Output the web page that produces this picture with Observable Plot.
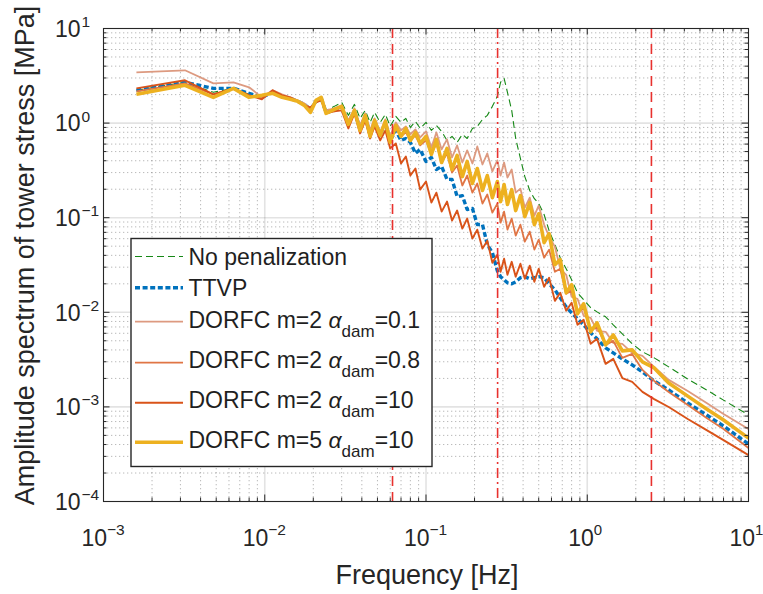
<!DOCTYPE html>
<html><head><meta charset="utf-8">
<script src="https://cdn.jsdelivr.net/npm/d3@7"></script>
<script src="https://cdn.jsdelivr.net/npm/@observablehq/plot@0.6"></script>
<style>
body{margin:0;background:#fff;}
#chart{position:relative;width:763px;height:594px;}
</style>
</head><body><div id="chart"></div>
<script>
// ---------- data ----------
const freq = [0.0016, 0.0032, 0.0048, 0.0064, 0.008, 0.0096, 0.0112, 0.0128, 0.0144, 0.016,
  0.0176, 0.0192, 0.0208, 0.0224, 0.024, 0.027, 0.03, 0.033, 0.036, 0.039,
  0.042, 0.045, 0.048, 0.052, 0.056, 0.06, 0.065, 0.07, 0.075, 0.08,
  0.086, 0.092, 0.1, 0.108, 0.116, 0.125, 0.135, 0.145, 0.156, 0.168,
  0.18, 0.194, 0.208, 0.224, 0.24, 0.258, 0.277, 0.29, 0.305, 0.32,
  0.34, 0.36, 0.385, 0.41, 0.44, 0.47, 0.5, 0.54, 0.58, 0.63,
  0.68, 0.74, 0.8, 0.87, 0.95, 1.05, 1.15, 1.3, 1.45, 1.65,
  1.9, 2.2, 2.6, 3.2, 4.2, 5.5, 7.0, 10];

const noPenalization = [2.221, 2.699, 2.115, 2.331, 2.014, 1.872, 2.115, 1.918, 1.826, 1.740,
  1.617, 1.431, 1.783, 1.872, 1.363, 1.503, 1.657, 1.207, 1.578, 1.121,
  1.363, 1.017, 1.298, 1.017, 1.236, 0.923, 1.178, 1.017, 1.121, 0.900,
  1.042, 0.879, 1.017, 0.837, 0.945, 0.817, 0.656, 0.723, 0.625, 0.759,
  0.688, 0.879, 0.923, 1.094, 1.207, 1.503, 1.918, 2.699, 2.976, 2.115,
  1.363, 0.688, 0.423, 0.272, 0.194, 0.159, 0.141, 0.108, 0.0730, 0.0519,
  0.0378, 0.0289, 0.0221, 0.0161, 0.0136, 0.0112, 0.0101, 0.00896, 0.00737, 0.00592,
  0.00464, 0.00382, 0.00330, 0.00265, 0.00197, 0.00151, 0.00118, 0.000821];

const ttvp = [2.221, 2.699, 2.331, 2.331, 2.064, 1.872, 2.115, 1.918, 1.826, 1.698,
  1.578, 1.397, 1.698, 1.826, 1.298, 1.363, 1.467, 1.017, 1.330, 0.879,
  1.178, 0.759, 1.017, 0.759, 0.993, 0.656, 0.837, 0.656, 0.688, 0.625,
  0.478, 0.527, 0.393, 0.433, 0.323, 0.348, 0.254, 0.254, 0.167, 0.171,
  0.122, 0.125, 0.0845, 0.0845, 0.0519, 0.0427, 0.0275, 0.0238, 0.0221, 0.0205,
  0.0200, 0.0210, 0.0232, 0.0238, 0.0226, 0.0232, 0.0238, 0.0232, 0.0200, 0.0173,
  0.0142, 0.0114, 0.00988, 0.00853, 0.00737, 0.00607, 0.00524, 0.00421, 0.00372, 0.00322,
  0.00278, 0.00234, 0.00188, 0.00151, 0.00110, 0.000821, 0.000628, 0.000405];

const dorfcM2A01 = [3.444, 3.617, 2.634, 2.699, 2.389, 1.872, 2.221, 2.014, 1.872, 1.740,
  1.617, 1.431, 1.740, 1.826, 1.363, 1.431, 1.540, 1.068, 1.431, 0.945,
  1.267, 0.837, 1.121, 0.797, 1.094, 0.723, 1.017, 0.837, 0.923, 0.759,
  0.858, 0.705, 0.817, 0.553, 0.797, 0.527, 0.672, 0.433, 0.581, 0.383,
  0.514, 0.374, 0.567, 0.365, 0.478, 0.308, 0.403, 0.279, 0.383, 0.266,
  0.323, 0.184, 0.203, 0.128, 0.163, 0.105, 0.134, 0.0845, 0.0631, 0.0494,
  0.0289, 0.0249, 0.0146, 0.0139, 0.00918, 0.00874, 0.00637, 0.00622, 0.00475, 0.00464,
  0.00372, 0.00346, 0.00265, 0.00193, 0.00147, 0.00110, 0.000841, 0.000583];

const dorfcM2A08 = [2.167, 2.634, 2.014, 2.331, 1.965, 1.826, 2.167, 1.965, 1.826, 1.698,
  1.578, 1.363, 1.698, 1.783, 1.298, 1.363, 1.467, 0.993, 1.330, 0.858,
  1.178, 0.741, 1.017, 0.741, 0.993, 0.640, 0.879, 0.723, 0.797, 0.656,
  0.741, 0.581, 0.656, 0.466, 0.610, 0.383, 0.478, 0.300, 0.356, 0.219,
  0.279, 0.184, 0.230, 0.141, 0.176, 0.113, 0.141, 0.0887, 0.116, 0.0748,
  0.0978, 0.0646, 0.0845, 0.0558, 0.0712, 0.0460, 0.0587, 0.0378, 0.0460, 0.0268,
  0.0289, 0.0157, 0.0169, 0.00988, 0.0112, 0.00637, 0.00702, 0.00453, 0.00499, 0.00330,
  0.00363, 0.00246, 0.00188, 0.00144, 0.00105, 0.000763, 0.000583, 0.000367];

const dorfcM2A10 = [2.331, 2.834, 2.014, 2.331, 1.965, 1.783, 2.221, 1.965, 1.872, 1.698,
  1.540, 1.467, 1.657, 1.740, 1.267, 1.330, 1.363, 0.879, 1.267, 0.778,
  1.068, 0.688, 0.923, 0.656, 0.837, 0.540, 0.610, 0.374, 0.444, 0.279,
  0.331, 0.198, 0.241, 0.1445, 0.184, 0.116, 0.148, 0.0932, 0.119, 0.0766,
  0.0978, 0.0601, 0.0748, 0.0471, 0.0572, 0.0334, 0.0406, 0.0268, 0.0369, 0.0249,
  0.0342, 0.0238, 0.0326, 0.0226, 0.0311, 0.0210, 0.0289, 0.0186, 0.0232, 0.0132,
  0.0161, 0.0104, 0.0126, 0.00737, 0.00833, 0.00464, 0.00524, 0.00285, 0.00322, 0.00202,
  0.00184, 0.00144, 0.00121, 0.000997, 0.000745, 0.000569, 0.000446, 0.000309];

const dorfcM5A10 = [2.014, 2.508, 1.872, 2.331, 1.872, 1.965, 2.064, 1.872, 1.783, 1.698,
  1.540, 1.298, 1.740, 1.872, 1.267, 1.397, 1.503, 0.969, 1.363, 0.837,
  1.207, 0.723, 1.068, 0.741, 1.042, 0.625, 0.945, 0.723, 0.879, 0.656,
  0.797, 0.610, 0.723, 0.466, 0.672, 0.383, 0.540, 0.323, 0.455, 0.272,
  0.393, 0.230, 0.331, 0.194, 0.279, 0.163, 0.241, 0.148, 0.224, 0.138,
  0.198, 0.119, 0.171, 0.1027, 0.1445, 0.0845, 0.110, 0.0545, 0.0678, 0.0319,
  0.0360, 0.0161, 0.0196, 0.00964, 0.0123, 0.00622, 0.00774, 0.00453, 0.00578, 0.00391,
  0.00401, 0.00299, 0.00258, 0.00179, 0.00130, 0.000950, 0.000726, 0.000468];

const markerFreqs = [0.062, 0.278, 2.5];          // red vertical reference lines
const markerDash = ["10,6", "10,4,2,4", "10,6"];

const xTickValues = [1e-3, 1e-2, 1e-1, 1, 10];
const xTickExponents = ["\u22123", "\u22122", "\u22121", "0", "1"];
const yTickValues = [1e-4, 1e-3, 1e-2, 1e-1, 1, 10];
const yTickExponents = ["\u22124", "\u22123", "\u22122", "\u22121", "0", "1"];
const minorMultipliers = [2, 3, 4, 5, 6, 7, 8, 9];

const xLabel = "Frequency [Hz]";
const yLabel = "Amplitude spectrum of tower stress [MPa]";

// legend: [prefix, greek, subscript, suffix]
const legendParts = [
  ["No penalization", "", "", ""],
  ["TTVP", "", "", ""],
  ["DORFC m=2 ", "\u03b1", "dam", "=0.1"],
  ["DORFC m=2 ", "\u03b1", "dam", "=0.8"],
  ["DORFC m=2 ", "\u03b1", "dam", "=10"],
  ["DORFC m=5 ", "\u03b1", "dam", "=10"]
];

// ---------- styles ----------
const seriesValues = [noPenalization, ttvp, dorfcM2A01, dorfcM2A08, dorfcM2A10, dorfcM5A10];
const seriesStyle = [
  {stroke: "#168816", strokeWidth: 1.1, strokeDasharray: "7,4"},
  {stroke: "#0072BD", strokeWidth: 3.4, strokeDasharray: "5,2.6"},
  {stroke: "#DD9A80", strokeWidth: 1.8},
  {stroke: "#E07545", strokeWidth: 1.8},
  {stroke: "#D95319", strokeWidth: 1.9},
  {stroke: "#EDB120", strokeWidth: 3.6}
];

const W = 763, H = 594, ML = 103, MR = 15, MT = 28, MB = 93;
const innerW = W - ML - MR, innerH = H - MT - MB;
const axisColor = "#262626";
const font = "'Liberation Sans', Arial, Helvetica, sans-serif";

const minorX = xTickValues.slice(0, -1).flatMap(d => minorMultipliers.map(k => k * d));
const minorY = yTickValues.slice(0, -1).flatMap(d => minorMultipliers.map(k => k * d));
const innerMajorX = xTickValues.slice(1, -1);
const innerMajorY = yTickValues.slice(1, -1);

const seriesMarks = seriesValues.map((vals, s) =>
  Plot.line(freq.map((f, i) => ({f, v: vals[i]})), {
    x: "f", y: "v", strokeLinejoin: "round", strokeLinecap: "butt", ...seriesStyle[s]
  })
);

const xIdx = xTickValues.map((d, i) => i);
const yIdx = yTickValues.map((d, i) => i);
const xNeg = xIdx.filter(i => xTickValues[i] < 1);
const xPos = xIdx.filter(i => xTickValues[i] >= 1);

const gridMinor = {stroke: axisColor, strokeOpacity: 0.32, strokeWidth: 1, strokeDasharray: "1.3,2.7"};
const gridMajor = {stroke: axisColor, strokeOpacity: 0.13, strokeWidth: 1.6};

const chart = Plot.plot({
  width: W, height: H,
  marginLeft: ML, marginRight: MR, marginTop: MT, marginBottom: MB,
  x: {type: "log", domain: [1e-3, 10], axis: null},
  y: {type: "log", domain: [1e-4, 10], axis: null},
  style: {fontFamily: font, color: axisColor, background: "white", overflow: "visible"},
  marks: [
    // grid
    Plot.ruleX(minorX, {x: d => d, ...gridMinor}),
    Plot.ruleY(minorY, {y: d => d, ...gridMinor}),
    Plot.ruleX(innerMajorX, {x: d => d, ...gridMajor}),
    Plot.ruleY(innerMajorY, {y: d => d, ...gridMajor}),
    // data
    ...seriesMarks,
    // reference lines
    ...markerFreqs.map((f, i) => Plot.ruleX([f], {x: d => d, stroke: "#E8312E", strokeWidth: 1.6, strokeDasharray: markerDash[i]})),
    // frame and inward ticks (all four sides)
    Plot.frame({stroke: axisColor, strokeWidth: 1.1}),
    Plot.ruleX(xTickValues, {x: d => d, stroke: axisColor, insetTop: innerH - 6.5}),
    Plot.ruleX(xTickValues, {x: d => d, stroke: axisColor, insetBottom: innerH - 6.5}),
    Plot.ruleX(minorX, {x: d => d, stroke: axisColor, insetTop: innerH - 3.5}),
    Plot.ruleX(minorX, {x: d => d, stroke: axisColor, insetBottom: innerH - 3.5}),
    Plot.ruleY(yTickValues, {y: d => d, stroke: axisColor, insetRight: innerW - 6.5}),
    Plot.ruleY(yTickValues, {y: d => d, stroke: axisColor, insetLeft: innerW - 6.5}),
    Plot.ruleY(minorY, {y: d => d, stroke: axisColor, insetRight: innerW - 3.5}),
    Plot.ruleY(minorY, {y: d => d, stroke: axisColor, insetLeft: innerW - 3.5}),
    // x tick labels 10^n
    Plot.text(xNeg, {x: i => xTickValues[i], text: () => "10", frameAnchor: "bottom", lineAnchor: "bottom", textAnchor: "end", dx: 3.5, dy: 44, fontSize: 23}),
    Plot.text(xNeg, {x: i => xTickValues[i], text: i => xTickExponents[i], frameAnchor: "bottom", lineAnchor: "bottom", textAnchor: "start", dx: 3.5, dy: 33, fontSize: 15.5}),
    Plot.text(xPos, {x: i => xTickValues[i], text: () => "10", frameAnchor: "bottom", lineAnchor: "bottom", textAnchor: "end", dx: 6.5, dy: 44, fontSize: 23}),
    Plot.text(xPos, {x: i => xTickValues[i], text: i => xTickExponents[i], frameAnchor: "bottom", lineAnchor: "bottom", textAnchor: "start", dx: 6.5, dy: 33, fontSize: 15}),
    // y tick labels 10^n
    Plot.text(yIdx, {y: i => yTickValues[i], text: () => "10", frameAnchor: "left", lineAnchor: "bottom", textAnchor: "end", dx: -23, dy: 8.3, fontSize: 23}),
    Plot.text(yIdx, {y: i => yTickValues[i], text: i => yTickExponents[i], frameAnchor: "left", lineAnchor: "bottom", textAnchor: "start", dx: -22, dy: -1.5, fontSize: 15.5}),
    // axis titles
    Plot.text([xLabel], {text: d => d, frameAnchor: "bottom", lineAnchor: "bottom", textAnchor: "middle", dx: 1, dy: 82, fontSize: 27}),
    Plot.text([yLabel], {text: d => d, frameAnchor: "left", lineAnchor: "bottom", textAnchor: "middle", rotate: -90, dx: -70, dy: -9.5, fontSize: 27})
  ]
});

document.getElementById("chart").appendChild(chart);

// ---------- legend (drawn on top, inside the axes) ----------
const svg = d3.select(chart);
const lg = svg.append("g").attr("font-family", font).attr("fill", "#1f1f1f").attr("text-anchor", "start");
lg.append("rect").attr("x", 131).attr("y", 238.5).attr("width", 301).attr("height", 228)
  .attr("fill", "white").attr("stroke", axisColor).attr("stroke-width", 1.4);
const baselines = [265, 296, 328.3, 368.3, 408.3, 448.3];
const lineYs = [256.5, 287.7, 321.7, 362.7, 402.7, 442.3];
legendParts.forEach((p, i) => {
  const st = seriesStyle[i];
  lg.append("line").attr("x1", 135).attr("x2", 183).attr("y1", lineYs[i]).attr("y2", lineYs[i])
    .attr("stroke", st.stroke).attr("stroke-width", st.strokeWidth)
    .attr("stroke-dasharray", st.strokeDasharray || null);
  const t = lg.append("text").attr("x", 188.5).attr("y", baselines[i]).attr("font-size", 23)
    .attr("text-anchor", "start");
  t.append("tspan").text(p[0]);
  if (p[1]) {
    t.append("tspan").attr("font-style", "italic").text(p[1]);
    t.append("tspan").attr("dy", 8.4).attr("font-size", 17).text(p[2]);
    t.append("tspan").attr("dy", -8.4).text(p[3]);
  }
});
</script>
</body></html>
